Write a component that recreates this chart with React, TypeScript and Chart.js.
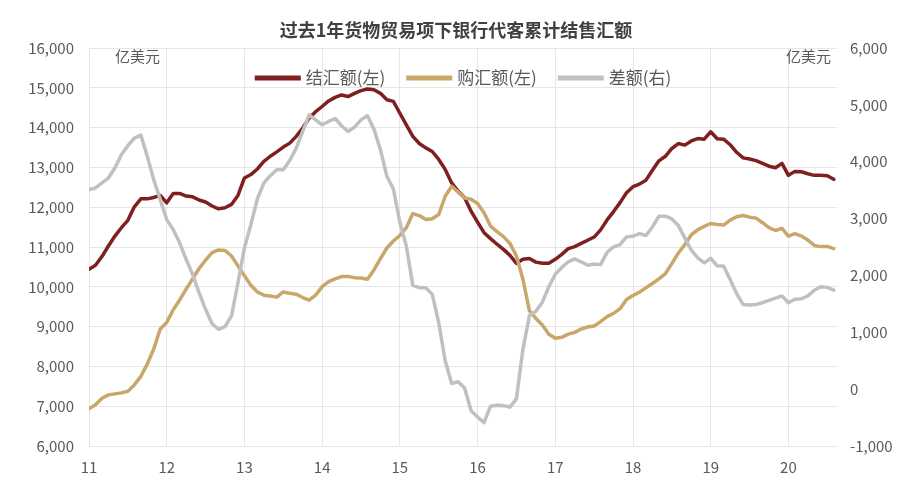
import React, { useEffect, useRef } from "react";
import { Chart, registerables } from "chart.js";

Chart.register(...registerables);

const TITLE = "过去1年货物贸易项下银行代客累计结售汇额";
const UNIT = "亿美元";
const yearLabels = ["11", "12", "13", "14", "15", "16", "17", "18", "19", "20"];
const seriesNames = ["结汇额(左)", "购汇额(左)", "差额(右)"];

// Monthly, Jan 2011 .. Aug 2020 (rolling 12-month totals, 100 million USD)
const settle = [
  10440, 10540, 10760, 11025, 11275, 11485, 11670, 12010, 12210, 12210,
  12245, 12295, 12110, 12345, 12345, 12280, 12260, 12180, 12130, 12030,
  11960, 11985, 12070, 12295, 12735, 12820, 12960, 13150, 13280, 13390,
  13510, 13610, 13780, 13990, 14240, 14400, 14530, 14670, 14760, 14820,
  14780, 14860, 14930, 14970, 14950, 14860, 14700, 14660, 14360, 14070,
  13780, 13600, 13490, 13400, 13200, 12950, 12610, 12400, 12235, 11900,
  11625, 11360, 11210, 11070, 10940, 10790, 10590, 10690, 10710, 10620,
  10590, 10590, 10690, 10815, 10960, 11010, 11090, 11170,
  11250, 11430, 11680, 11890, 12115, 12365, 12515, 12580, 12680, 12930,
  13165, 13280, 13475, 13600, 13560, 13665, 13725, 13710, 13895, 13720,
  13710, 13570, 13380, 13240, 13210, 13170, 13100, 13030, 12990, 13100,
  12800, 12900, 12890, 12840, 12800, 12800, 12790, 12700,
];

const purchase = [
  6935, 7035, 7200, 7285, 7310, 7335, 7375, 7535, 7750, 8060,
  8440, 8940, 9105, 9420, 9670, 9940, 10200, 10460, 10670, 10860,
  10925, 10915, 10775, 10525, 10275, 10040, 9870, 9790, 9770, 9740,
  9870, 9840, 9815, 9730, 9665, 9790, 10005, 10130, 10200, 10257,
  10257, 10230, 10220, 10190, 10425, 10710, 10975, 11150, 11290, 11485,
  11840, 11790, 11690, 11710, 11815, 12275, 12525, 12380, 12230, 12200,
  12095, 11860, 11525, 11385, 11260, 11090, 10775, 10190, 9400, 9205,
  9040, 8810, 8705, 8730, 8810, 8855, 8940, 8990,
  9017, 9125, 9250, 9333, 9450, 9683, 9783, 9867, 9975, 10083,
  10200, 10333, 10583, 10850, 11058, 11308, 11433, 11517, 11590, 11565,
  11550, 11675, 11760, 11790, 11750, 11725, 11610, 11485, 11415, 11470,
  11275, 11335, 11275, 11175, 11040, 11010, 11015, 10960,
];

const balance = [
  3509, 3538, 3626, 3713, 3889, 4123, 4281, 4415, 4468, 4094,
  3684, 3333, 2982, 2807, 2573, 2281, 2018, 1696, 1404, 1150,
  1053, 1099, 1287, 1871, 2485, 2895, 3345, 3626, 3754, 3860,
  3860, 4023, 4240, 4532, 4825, 4737, 4649, 4708, 4760, 4632,
  4532, 4608, 4737, 4807, 4573, 4211, 3743, 3520, 2936, 2515,
  1825, 1784, 1784, 1667, 1170, 500, 100, 130, 20, -380,
  -490, -590, -300, -285, -290, -315, -170, 700, 1290, 1370,
  1530, 1800, 2020, 2140, 2240, 2290, 2240, 2180,
  2200, 2190, 2408, 2502, 2543, 2678, 2689, 2736, 2701, 2853,
  3041, 3041, 2994, 2877, 2660, 2443, 2308, 2220, 2300, 2170,
  2160, 1930, 1680, 1490, 1480, 1490, 1520, 1560, 1600, 1640,
  1520, 1580, 1590, 1640, 1740, 1800, 1790, 1740,
];

const RED = "#7f1f1f";
const GOLD = "#c9a76b";
const GRAY = "#c0c0c0";
const GRID = "#e6e6e6";
const TICK = "#595959";
const FONT = '"Noto Sans CJK SC", "Microsoft YaHei", sans-serif';

export default function App() {
  const ref = useRef<HTMLCanvasElement>(null);

  useEffect(() => {
    const canvas = ref.current;
    if (!canvas) return;
    const toPts = (arr: number[]) => arr.map((v, i) => ({ x: i, y: v }));
    const colors = [RED, GOLD, GRAY];

    const overlay = {
      id: "overlay",
      afterDraw(chart: any) {
        const ctx = chart.ctx as CanvasRenderingContext2D;
        const area = chart.chartArea;
        ctx.save();
        // title
        ctx.fillStyle = "#404040";
        ctx.font = `bold 18px ${FONT}`;
        ctx.textAlign = "center";
        ctx.textBaseline = "middle";
        ctx.fillText(TITLE, chart.width / 2, 30);
        // units
        ctx.fillStyle = TICK;
        ctx.font = `15px ${FONT}`;
        ctx.textAlign = "left";
        ctx.fillText(UNIT, 115, 56);
        ctx.textAlign = "right";
        ctx.fillText(UNIT, 831, 56);
        // legend
        ctx.font = `17px ${FONT}`;
        const sw = 46, gap = 5, itemGap = 21;
        const widths = seriesNames.map((s) => ctx.measureText(s).width);
        let total = 0;
        widths.forEach((w, i) => {
          total += sw + gap + w + (i > 0 ? itemGap : 0);
        });
        let x = (area.left + area.right) / 2 - total / 2;
        const y = 78;
        seriesNames.forEach((s, i) => {
          ctx.strokeStyle = colors[i];
          ctx.lineWidth = 5;
          ctx.lineCap = "butt";
          ctx.beginPath();
          ctx.moveTo(x, y);
          ctx.lineTo(x + sw, y);
          ctx.stroke();
          ctx.fillStyle = TICK;
          ctx.textAlign = "left";
          ctx.textBaseline = "middle";
          ctx.fillText(s, x + sw + gap, y);
          x += sw + gap + widths[i] + itemGap;
        });
        ctx.restore();
      },
    };

    const chart = new Chart(canvas, {
      type: "line",
      data: {
        datasets: [
          { label: seriesNames[0], data: toPts(settle), borderColor: RED, backgroundColor: RED, yAxisID: "y", order: 3 },
          { label: seriesNames[1], data: toPts(purchase), borderColor: GOLD, backgroundColor: GOLD, yAxisID: "y", order: 2 },
          { label: seriesNames[2], data: toPts(balance), borderColor: GRAY, backgroundColor: GRAY, yAxisID: "y1", order: 1 },
        ],
      },
      options: {
        responsive: false,
        animation: false,
        devicePixelRatio: 1,
        layout: { padding: { top: 48, bottom: 15, left: 0, right: 0 } },
        plugins: {
          legend: { display: false },
          title: { display: false },
          tooltip: { enabled: false },
        },
        elements: {
          point: { radius: 0 },
          line: { borderWidth: 3.5, tension: 0, borderJoinStyle: "round", borderCapStyle: "round" },
        },
        scales: {
          x: {
            type: "linear",
            min: 0,
            max: 115.5,
            afterFit: (s: any) => { s.height = 30; },
            grid: { color: GRID, drawTicks: false },
            border: { display: false },
            ticks: {
              stepSize: 12,
              includeBounds: false,
              autoSkip: false,
              maxRotation: 0,
              padding: 12,
              color: TICK,
              font: { family: FONT, size: 15 },
              callback: (v: any) => yearLabels[Math.round(Number(v) / 12)] ?? "",
            },
          },
          y: {
            position: "left",
            min: 6000,
            max: 16000,
            afterFit: (s: any) => { s.width = 89; },
            grid: { color: GRID, drawTicks: false },
            border: { display: false },
            ticks: {
              stepSize: 1000,
              padding: 15,
              color: TICK,
              font: { family: FONT, size: 15 },
              callback: (v: any) => Number(v).toLocaleString("en-US"),
            },
          },
          y1: {
            position: "right",
            min: -1000,
            max: 6000,
            afterFit: (s: any) => { s.width = 75; },
            grid: { drawOnChartArea: false, drawTicks: false },
            border: { display: false },
            ticks: {
              stepSize: 1000,
              padding: 13,
              color: TICK,
              font: { family: FONT, size: 15 },
              callback: (v: any) => Number(v).toLocaleString("en-US"),
            },
          },
        },
      } as any,
      plugins: [overlay],
    });

    return () => chart.destroy();
  }, []);

  return (
    <div style={{ position: "fixed", left: 0, top: 0, width: 912, height: 491, background: "#fff" }}>
      <canvas ref={ref} width={912} height={491} style={{ display: "block" }} />
    </div>
  );
}
